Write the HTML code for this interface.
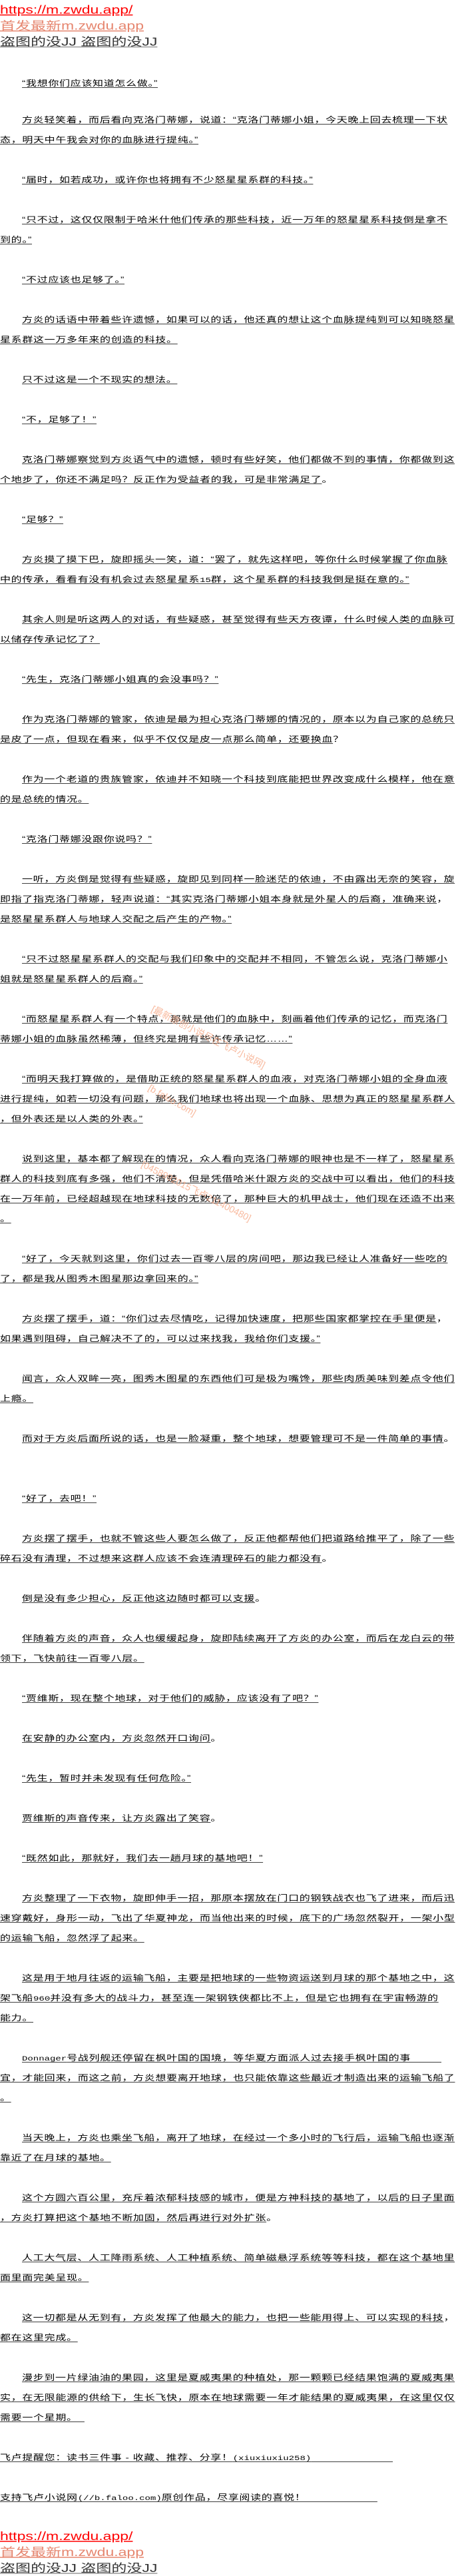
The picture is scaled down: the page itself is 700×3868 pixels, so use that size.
<!DOCTYPE html>
<html><head><meta charset="utf-8"><style>
html,body{margin:0;padding:0;background:#fff;}
body{width:700px;height:3840px;overflow:hidden;position:relative;}
#c{position:absolute;left:0;top:0;width:700px;height:5120px;transform:scaleY(0.75);transform-origin:0 0;
 font-family:"Liberation Sans","Noto Sans CJK SC",sans-serif;color:#000;}
.h{padding-top:3px;}
.h div{display:block;height:32px;line-height:32px;font-size:23px;white-space:nowrap;font-family:"Liberation Sans","Noto Sans CJK SC",sans-serif;}
.h .a{color:#ff0000;text-decoration:underline;}
.h .b{color:#e6866f;text-decoration:underline;}
.h .d{color:#333;text-decoration:underline;text-decoration-color:#999;}
.p{margin:0 0 40px 0;}
.ln{height:40px;line-height:40px;font-size:16px;letter-spacing:0.67px;white-space:nowrap;}
.ln u{text-decoration:underline;text-underline-offset:3px;}
.i{padding-left:33px;}
.m{font-family:"Liberation Mono",monospace;font-size:14px;letter-spacing:0;}
.wm{position:absolute;color:#f7a987;opacity:0.8;font-size:14px;white-space:nowrap;transform-origin:0 0;font-family:"Liberation Sans","Noto Sans CJK SC",sans-serif;}
</style></head><body>
<div id="c">
<div class="h">
<div class="a">https://m.zwdu.app/</div>
<div class="b">首发最新m.zwdu.app</div>
<div class="d">盗图的没JJ 盗图的没JJ</div>
</div>
<div class="p" style="margin-top:49px;margin-bottom:33px"><div class="ln i"><u>“我想你们应该知道怎么做。”</u></div></div>
<div class="p"><div class="ln i"><u>方炎轻笑着，而后看向克洛门蒂娜，说道：“克洛门蒂娜小姐，今天晚上回去梳理一下状</u></div><div class="ln"><u>态，明天中午我会对你的血脉进行提纯。”</u></div></div>
<div class="p"><div class="ln i"><u>“届时，如若成功，或许你也将拥有不少怒星星系群的科技。”</u></div></div>
<div class="p"><div class="ln i"><u>“只不过，这仅仅限制于哈米什他们传承的那些科技，近一万年的怒星星系科技倒是拿不</u></div><div class="ln"><u>到的。”</u></div></div>
<div class="p"><div class="ln i"><u>“不过应该也足够了。”</u></div></div>
<div class="p"><div class="ln i"><u>方炎的话语中带着些许遗憾，如果可以的话，他还真的想让这个血脉提纯到可以知晓怒星</u></div><div class="ln"><u>星系群这一万多年来的创造的科技。</u></div></div>
<div class="p"><div class="ln i"><u>只不过这是一个不现实的想法。</u></div></div>
<div class="p"><div class="ln i"><u>“不，足够了！”</u></div></div>
<div class="p"><div class="ln i"><u>克洛门蒂娜察觉到方炎语气中的遗憾，顿时有些好笑，他们都做不到的事情，你都做到这</u></div><div class="ln"><u>个地步了，你还不满足吗？反正作为受益者的我，可是非常满足了</u>。</div></div>
<div class="p"><div class="ln i"><u>“足够？”</u></div></div>
<div class="p"><div class="ln i"><u>方炎摸了摸下巴，旋即摇头一笑，道：“罢了，就先这样吧，等你什么时候掌握了你血脉</u></div><div class="ln"><u>中的传承，看看有没有机会过去怒星星系<span class="m">15</span>群，这个星系群的科技我倒是挺在意的。”</u></div></div>
<div class="p"><div class="ln i"><u>其余人则是听这两人的对话，有些疑惑，甚至觉得有些天方夜谭，什么时候人类的血脉可</u></div><div class="ln"><u>以储存传承记忆了？</u></div></div>
<div class="p"><div class="ln i"><u>“先生，克洛门蒂娜小姐真的会没事吗？”</u></div></div>
<div class="p"><div class="ln i"><u>作为克洛门蒂娜的管家，依迪是最为担心克洛门蒂娜的情况的，原本以为自己家的总统只</u></div><div class="ln"><u>是皮了一点，但现在看来，似乎不仅仅是皮一点那么简单，还要换血</u>？</div></div>
<div class="p"><div class="ln i"><u>作为一个老道的贵族管家，依迪并不知晓一个科技到底能把世界改变成什么模样，他在意</u></div><div class="ln"><u>的是总统的情况。</u></div></div>
<div class="p"><div class="ln i"><u>“克洛门蒂娜没跟你说吗？”</u></div></div>
<div class="p"><div class="ln i"><u>一听，方炎倒是觉得有些疑惑，旋即见到同样一脸迷茫的依迪，不由露出无奈的笑容，旋</u></div><div class="ln"><u>即指了指克洛门蒂娜，轻声说道：“其实克洛门蒂娜小姐本身就是外星人的后裔，准确来说</u>，</div><div class="ln"><u>是怒星星系群人与地球人交配之后产生的产物。”</u></div></div>
<div class="p"><div class="ln i"><u>“只不过怒星星系群人的交配与我们印象中的交配并不相同，不管怎么说，克洛门蒂娜小</u></div><div class="ln"><u>姐就是怒星星系群人的后裔。”</u></div></div>
<div class="p"><div class="ln i"><u>“而怒星星系群人有一个特点，那就是他们的血脉中，刻画着他们传承的记忆，而克洛门</u></div><div class="ln"><u>蒂娜小姐的血脉虽然稀薄，但终究是拥有些许传承记忆……”</u></div></div>
<div class="p"><div class="ln i"><u>“而明天我打算做的，是借助正统的怒星星系群人的血液，对克洛门蒂娜小姐的全身血液</u></div><div class="ln"><u>进行提纯，如若一切没有问题，那么我们地球也将出现一个血脉、思想为真正的怒星星系群人</u></div><div class="ln"><u>，但外表还是以人类的外表。”</u></div></div>
<div class="p"><div class="ln i"><u>说到这里，基本都了解现在的情况，众人看向克洛门蒂娜的眼神也是不一样了，怒星星系</u></div><div class="ln"><u>群人的科技到底有多强，他们不清楚，但是凭借哈米什跟方炎的交战中可以看出，他们的科技</u></div><div class="ln"><u>在一万年前，已经超越现在地球科技的无数倍了，那种巨大的机甲战士，他们现在还造不出来</u></div><div class="ln"><u>。</u></div></div>
<div class="p"><div class="ln i"><u>“好了，今天就到这里，你们过去一百零八层的房间吧，那边我已经让人准备好一些吃的</u></div><div class="ln"><u>了，都是我从图秀木图星那边拿回来的。”</u></div></div>
<div class="p"><div class="ln i"><u>方炎摆了摆手，道：“你们过去尽情吃，记得加快速度，把那些国家都掌控在手里便是</u>，</div><div class="ln"><u>如果遇到阻碍，自己解决不了的，可以过来找我，我给你们支援。”</u></div></div>
<div class="p"><div class="ln i"><u>闻言，众人双眸一亮，图秀木图星的东西他们可是极为嘴馋，那些肉质美味到差点令他们</u></div><div class="ln"><u>上瘾。</u></div></div>
<div class="p" style="margin-bottom:80px"><div class="ln i"><u>而对于方炎后面所说的话，也是一脸凝重，整个地球，想要管理可不是一件简单的事情</u>。</div></div>
<div class="p"><div class="ln i"><u>“好了，去吧！”</u></div></div>
<div class="p"><div class="ln i"><u>方炎摆了摆手，也就不管这些人要怎么做了，反正他都帮他们把道路给推平了，除了一些</u></div><div class="ln"><u>碎石没有清理，不过想来这群人应该不会连清理碎石的能力都没有</u>。</div></div>
<div class="p"><div class="ln i"><u>倒是没有多少担心，反正他这边随时都可以支援</u>。</div></div>
<div class="p"><div class="ln i"><u>伴随着方炎的声音，众人也缓缓起身，旋即陆续离开了方炎的办公室，而后在龙白云的带</u></div><div class="ln"><u>领下，飞快前往一百零八层。</u></div></div>
<div class="p"><div class="ln i"><u>“贾维斯，现在整个地球，对于他们的威胁，应该没有了吧？”</u></div></div>
<div class="p"><div class="ln i"><u>在安静的办公室内，方炎忽然开口询问</u>。</div></div>
<div class="p"><div class="ln i"><u>“先生，暂时并未发现有任何危险。”</u></div></div>
<div class="p"><div class="ln i"><u>贾维斯的声音传来，让方炎露出了笑容</u>。</div></div>
<div class="p"><div class="ln i"><u>“既然如此，那就好，我们去一趟月球的基地吧！”</u></div></div>
<div class="p"><div class="ln i"><u>方炎整理了一下衣物，旋即伸手一招，那原本摆放在门口的钢铁战衣也飞了进来，而后迅</u></div><div class="ln"><u>速穿戴好，身形一动，飞出了华夏神龙，而当他出来的时候，底下的广场忽然裂开，一架小型</u></div><div class="ln"><u>的运输飞船，忽然浮了起来。</u></div></div>
<div class="p"><div class="ln i"><u>这是用于地月往返的运输飞船，主要是把地球的一些物资运送到月球的那个基地之中，这</u></div><div class="ln"><u>架飞船<span class="m">960</span>并没有多大的战斗力，甚至连一架钢铁侠都比不上，但是它也拥有在宇宙畅游的</u></div><div class="ln"><u>能力。</u></div></div>
<div class="p"><div class="ln i"><u><span class="m">Donnager</span>号战列舰还停留在枫叶国的国境，等华夏方面派人过去接手枫叶国的事&nbsp;&nbsp;&nbsp;&nbsp;&nbsp;&nbsp;&nbsp;&nbsp;&nbsp;</u></div><div class="ln"><u>宜，才能回来，而这之前，方炎想要离开地球，也只能依靠这些最近才制造出来的运输飞船了</u></div><div class="ln"><u>。</u></div></div>
<div class="p"><div class="ln i"><u>当天晚上，方炎也乘坐飞船，离开了地球，在经过一个多小时的飞行后，运输飞船也逐渐</u></div><div class="ln"><u>靠近了在月球的基地。</u></div></div>
<div class="p"><div class="ln i"><u>这个方圆六百公里，充斥着浓郁科技感的城市，便是方神科技的基地了，以后的日子里面</u></div><div class="ln"><u>，方炎打算把这个基地不断加固，然后再进行对外扩张</u>。</div></div>
<div class="p"><div class="ln i"><u>人工大气层、人工降雨系统、人工种植系统、简单磁悬浮系统等等科技，都在这个基地里</u></div><div class="ln"><u>面里面完美呈现。</u></div></div>
<div class="p"><div class="ln i"><u>这一切都是从无到有，方炎发挥了他最大的能力，也把一些能用得上、可以实现的科技</u>，</div><div class="ln"><u>都在这里完成。</u></div></div>
<div class="p"><div class="ln i"><u>漫步到一片绿油油的果园，这里是夏威夷果的种植处，那一颗颗已经结果饱满的夏威夷果</u></div><div class="ln"><u>实，在无限能源的供给下，生长飞快，原本在地球需要一年才能结果的夏威夷果，在这里仅仅</u></div><div class="ln"><u>需要一个星期。&nbsp;&nbsp;</u></div></div>
<div class="p"><div class="ln"><u>飞卢提醒您：读书三件事 - 收藏、推荐、分享！<span class="m">(xiuxiuxiu258)</span>&nbsp;&nbsp;&nbsp;&nbsp;&nbsp;&nbsp;&nbsp;&nbsp;&nbsp;&nbsp;&nbsp;&nbsp;&nbsp;&nbsp;&nbsp;&nbsp;&nbsp;&nbsp;&nbsp;&nbsp;&nbsp;&nbsp;&nbsp;&nbsp;</u></div></div>
<div class="p"><div class="ln"><u>支持飞卢小说网<span class="m">(//b.faloo.com)</span>原创作品，尽享阅读的喜悦！&nbsp;&nbsp;&nbsp;&nbsp;&nbsp;&nbsp;&nbsp;&nbsp;&nbsp;&nbsp;&nbsp;&nbsp;&nbsp;&nbsp;&nbsp;&nbsp;&nbsp;&nbsp;&nbsp;&nbsp;&nbsp;</u></div></div>
<div class="h" style="padding-top:0">
<div class="a">https://m.zwdu.app/</div>
<div class="b">首发最新m.zwdu.app</div>
<div class="d">盗图的没JJ 盗图的没JJ</div>
</div>
</div>
<div class="wm" style="left:233px;top:1505px;transform:rotate(27deg);">[最新原创小说尽在飞卢小说网]</div>
<div class="wm" style="left:228px;top:1625px;transform:rotate(30deg);">[b.faloo.com]</div>
<div class="wm" style="left:218px;top:1738px;transform:rotate(27deg);">[0458992015飞卢211400480]</div>
</body></html>
